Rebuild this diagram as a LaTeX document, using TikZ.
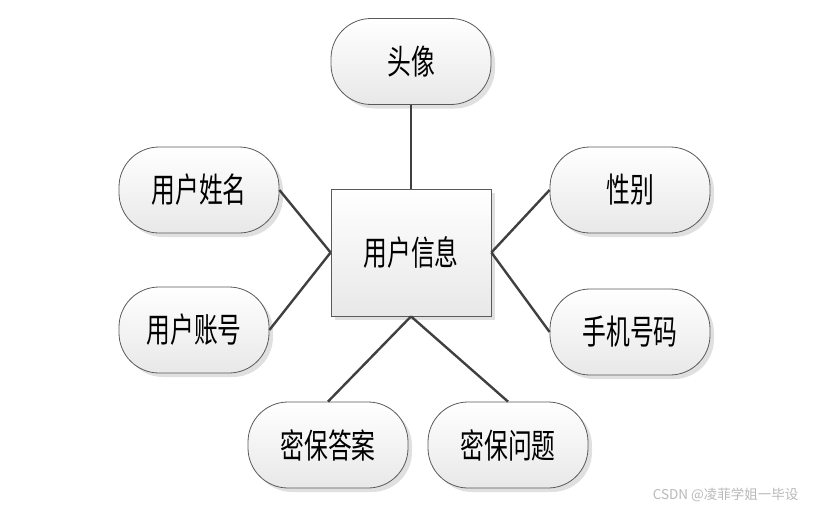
\documentclass[tikz,border=0pt]{standalone}
\usepackage{fontspec}
\usepackage{xcolor}
\usepackage{tikz}
\usetikzlibrary{shadows, positioning, calc}
\newfontfamily\cjk[FakeStretch=0.7]{Noto Sans CJK SC}
\newfontfamily\cjkmark{Noto Sans CJK SC}
\definecolor{edgegray}{HTML}{5A5A5A}
\definecolor{linegray}{HTML}{404040}
\definecolor{shadegray}{HTML}{E8E8E8}
\definecolor{markgray}{HTML}{B8B8B8}
\tikzset{
  attr/.style={
    rectangle, rounded corners=40pt,
    minimum width=160pt, minimum height=86pt,
    text centered, draw=edgegray, thick,
    top color=white, bottom color=shadegray,
    drop shadow={shadow xshift=4pt, shadow yshift=-4pt, fill=black!12, opacity=1},
    font=\cjk\fontsize{34}{34}\selectfont,
  },
  entity/.style={
    rectangle,
    minimum width=160pt, minimum height=127pt,
    text centered, draw=edgegray, thick,
    top color=white, bottom color=shadegray,
    drop shadow={shadow xshift=4pt, shadow yshift=-4pt, fill=black!12, opacity=1},
    font=\cjk\fontsize{34}{34}\selectfont,
  },
  link/.style={line width=2.4pt, color=linegray},
  wmark/.style={font=\cjkmark\fontsize{13.5}{13.5}\selectfont, text=markgray},
}
\begin{document}
\begin{tikzpicture}[x=1pt, y=-1pt]

  \useasboundingbox (0,0) rectangle (813,511);

  \node[entity] (info) at (411,252.5) {用户信息};
  \node[attr] (avatar) at (411,61.5) {头像};
  \node[attr] (uname) at (199,190) {用户姓名};
  \node[attr, minimum width=150pt] (uacct) at (194,330) {用户账号};
  \node[attr] (gender) at (630,190) {性别};
  \node[attr] (phone) at (630,332) {手机号码};
  \node[attr] (answer) at (328,445) {密保答案};
  \node[attr] (question) at (508,445) {密保问题};

  \draw[link] (avatar) -- (info);
  \draw[link] (uname.east) -- (info.west);
  \draw[link] (uacct.east) -- (info.west);
  \draw[link] (gender.west) -- (info.east);
  \draw[link] (phone.west) -- (info.east);
  \draw[link] (answer.north) -- (info.south);
  \draw[link] (question.north) -- (info.south);

  \node[wmark, anchor=east] (wm) at (802,495) {CSDN @凌菲学姐一毕设};

\end{tikzpicture}
\end{document}
